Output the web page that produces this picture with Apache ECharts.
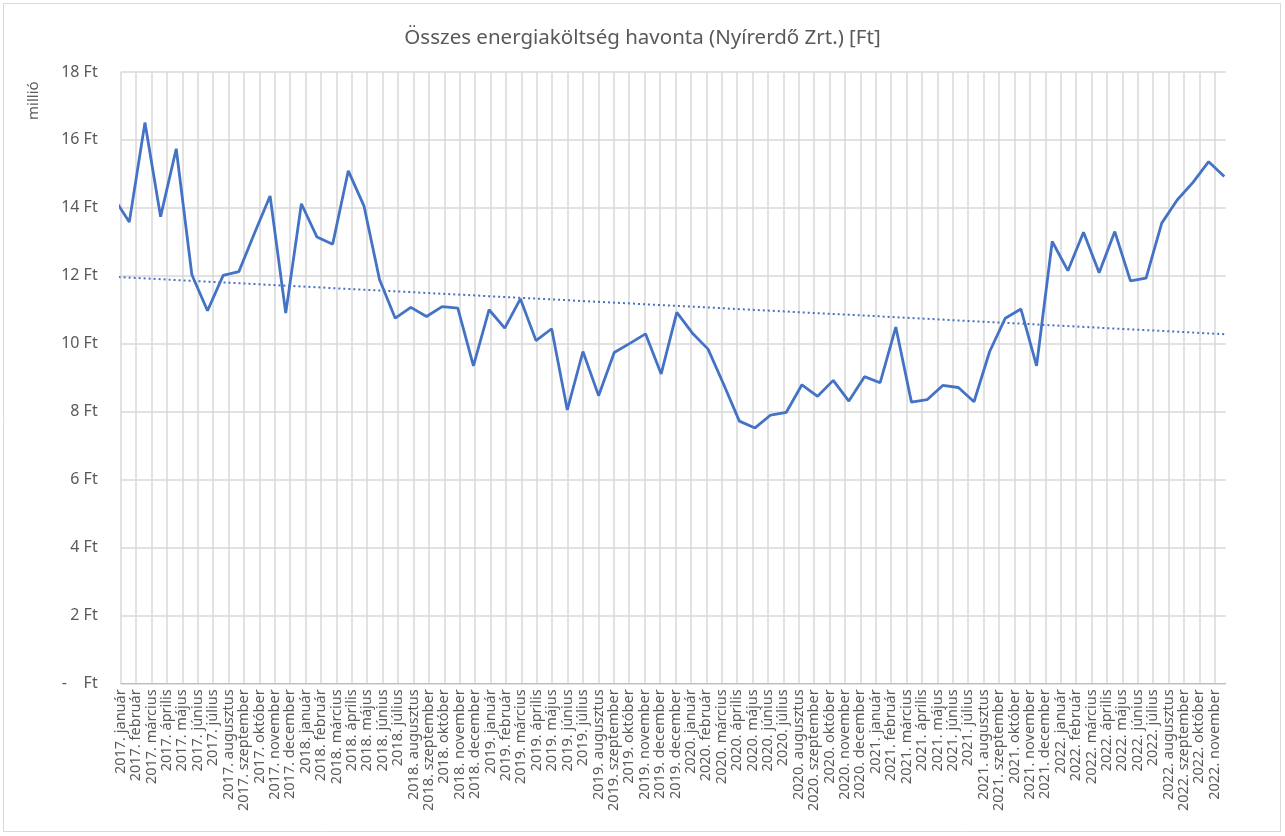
<!DOCTYPE html>
<html>
<head>
<meta charset="utf-8">
<script src="https://cdn.jsdelivr.net/npm/echarts@6/dist/echarts.min.js"></script>
<style>
html,body{margin:0;padding:0;background:#fff;}
#chart{width:1285px;height:836px;}
</style>
</head>
<body>
<div id="chart"></div>
<script>
// Category labels (note: the source repeats "2019. december")
const categories = [
 '2017. január','2017. február','2017. március','2017. április','2017. május','2017. június',
 '2017. július','2017. augusztus','2017. szeptember','2017. október','2017. november','2017. december',
 '2018. január','2018. február','2018. március','2018. április','2018. május','2018. június',
 '2018. július','2018. augusztus','2018. szeptember','2018. október','2018. november','2018. december',
 '2019. január','2019. február','2019. március','2019. április','2019. május','2019. június',
 '2019. július','2019. augusztus','2019. szeptember','2019. október','2019. november','2019. december',
 '2019. december','2020. január','2020. február','2020. március','2020. április','2020. május',
 '2020. június','2020. július','2020. augusztus','2020. szeptember','2020. október','2020. november',
 '2020. december','2021. január','2021. február','2021. március','2021. április','2021. május',
 '2021. június','2021. július','2021. augusztus','2021. szeptember','2021. október','2021. november',
 '2021. december','2022. január','2022. február','2022. március','2022. április','2022. május',
 '2022. június','2022. július','2022. augusztus','2022. szeptember','2022. október','2022. november'
];

// Monthly total energy cost (million Ft)
const costValues = [
 14.30, 13.58, 16.51, 13.74, 15.74, 12.03, 10.97, 12.01, 12.12, 13.25, 14.35, 10.90,
 14.12, 13.14, 12.93, 15.09, 14.06, 11.88, 10.75, 11.07, 10.80, 11.09, 11.05, 9.35,
 11.00, 10.46, 11.32, 10.09, 10.44, 8.05, 9.77, 8.47, 9.74, 10.01, 10.29, 9.11,
 10.92, 10.31, 9.84, 8.80, 7.72, 7.52, 7.90, 7.98, 8.79, 8.45, 8.92, 8.31,
 9.03, 8.85, 10.49, 8.28, 8.35, 8.77, 8.71, 8.29, 9.77, 10.75, 11.02, 9.35,
 13.01, 12.15, 13.28, 12.09, 13.30, 11.85, 11.93, 13.55, 14.24, 14.75, 15.36, 14.92
];

// Linear trendline, values at the first and last month
const trendValues = [11.97, 10.28];

const yTicks = [0, 2, 4, 6, 8, 10, 12, 14, 16, 18];

const lastIdx = costValues.length - 1;
const seriesData = costValues.map((v, i) => [i, v]);
const trendData = [[0, trendValues[0]], [lastIdx, trendValues[1]]];

const chart = echarts.init(document.getElementById('chart'), null, {renderer: 'canvas'});
const FONT = 'Noto Sans';
const TXT = '#595959';

chart.setOption({
  animation: false,
  backgroundColor: '#ffffff',
  title: {
    text: 'Összes energiaköltség havonta (Nyírerdő Zrt.) [Ft]',
    left: 'center',
    top: 23,
    textStyle: {fontFamily: FONT, fontSize: 20.5, fontWeight: 'normal', color: TXT}
  },
  graphic: [
    {type: 'rect', shape: {x: 3.5, y: 3.5, width: 1277, height: 828},
     style: {fill: 'none', stroke: '#d9d9d9', lineWidth: 1}, silent: true},
    {type: 'text', x: 26, y: 120, rotation: Math.PI / 2,
     style: {text: 'millió', fontFamily: FONT, fontSize: 15, fill: TXT}}
  ],
  grid: {left: 120.7, right: 59.3, top: 72, bottom: 152.7, containLabel: false},
  xAxis: [
    {
      type: 'value', min: 0, max: 71.71, interval: 1,
      axisLine: {show: true, lineStyle: {color: '#bfbfbf', width: 1}},
      axisTick: {show: false},
      splitLine: {show: true, showMinLine: true, showMaxLine: false,
                  lineStyle: {color: '#d9d9d9', width: 1.5}},
      axisLabel: {
        show: true, rotate: 90, fontFamily: FONT, fontSize: 14.5, color: TXT, margin: 6,
        showMaxLabel: false,
        formatter: function (v) {
          return Number.isInteger(v) && categories[v] !== undefined ? categories[v] : '';
        }
      }
    },
    {
      type: 'value', min: 0.45, max: 71.09, show: false
    }
  ],
  yAxis: {
    type: 'value', min: yTicks[0], max: yTicks[yTicks.length - 1], interval: 2,
    axisLine: {show: false}, axisTick: {show: false},
    splitLine: {show: true, lineStyle: {color: '#d9d9d9', width: 1.5}},
    axisLabel: {
      fontFamily: FONT, fontSize: 16, color: TXT, margin: 23,
      formatter: function (v) { return v === 0 ? '-    Ft' : v + ' Ft'; }
    }
  },
  series: [
    {
      type: 'line', xAxisIndex: 1, data: seriesData,
      showSymbol: false, clip: true,
      lineStyle: {color: '#4472c4', width: 2.8}
    },
    {
      type: 'line', xAxisIndex: 1, data: trendData,
      showSymbol: false, clip: true,
      lineStyle: {color: '#4472c4', width: 2, type: [2, 3]}
    }
  ]
});
</script>
</body>
</html>
